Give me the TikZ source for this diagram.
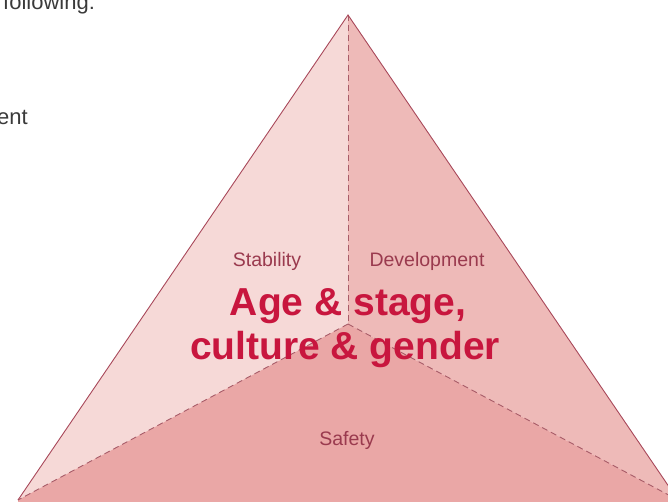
\documentclass[tikz,border=0pt]{standalone}
\usepackage{fontspec}
\setmainfont{Liberation Sans}
\definecolor{faceL}{HTML}{F6D9D7}
\definecolor{faceR}{HTML}{EEBAB8}
\definecolor{faceB}{HTML}{EAA7A6}
\definecolor{edgec}{HTML}{A8485A}
\definecolor{dashc}{HTML}{A85C68}
\definecolor{lblc}{HTML}{9A3A4E}
\definecolor{titlec}{HTML}{C8163E}
\definecolor{bodyc}{HTML}{3A3A3A}
\tikzset{
  facelbl/.style={anchor=base, text=lblc, font=\fontsize{19.5}{20}\selectfont, inner sep=0pt},
  titlelbl/.style={anchor=base, text=titlec, font=\bfseries\fontsize{39}{45}\selectfont, inner sep=0pt},
  bodytxt/.style={text=bodyc, font=\fontsize{22}{24}\selectfont, inner sep=0pt},
  divider/.style={dashc, line width=0.9pt, dash pattern=on 6pt off 4pt},
  outline/.style={edgec, line width=0.9pt}
}
\begin{document}
\begin{tikzpicture}[x=1pt,y=-1pt]
\useasboundingbox (0,0) rectangle (668,502);
\clip (0,0) rectangle (668,502);
\coordinate (A) at (348,15);
\coordinate (L) at (18,500);
\coordinate (R) at (678,500);
\coordinate (C) at (348,324);
\fill[faceL] (A) -- (C) -- (L) -- cycle;
\fill[faceR] (A) -- (C) -- (R) -- cycle;
\fill[faceB] (L) -- (C) -- (R) -- (678,510) -- (18,510) -- cycle;
\draw[divider] (A) -- (C);
\draw[divider] (C) -- (L);
\draw[divider] (C) -- (R);
\draw[outline] (L) -- (A) -- (R);
\node[bodytxt, anchor=base west] (t1) at (3,10) {following:};
\node[bodytxt, anchor=base east] (t2) at (28,125) {ent};
\node[facelbl] (stab) at (267,266) {Stability};
\node[facelbl] (dev) at (427,266) {Development};
\node[facelbl] (saf) at (347,445) {Safety};
\node[titlelbl] (ti1) at (348,315) {Age \& stage,};
\node[titlelbl] (ti2) at (345,359) {culture \& gender};
\end{tikzpicture}
\end{document}
